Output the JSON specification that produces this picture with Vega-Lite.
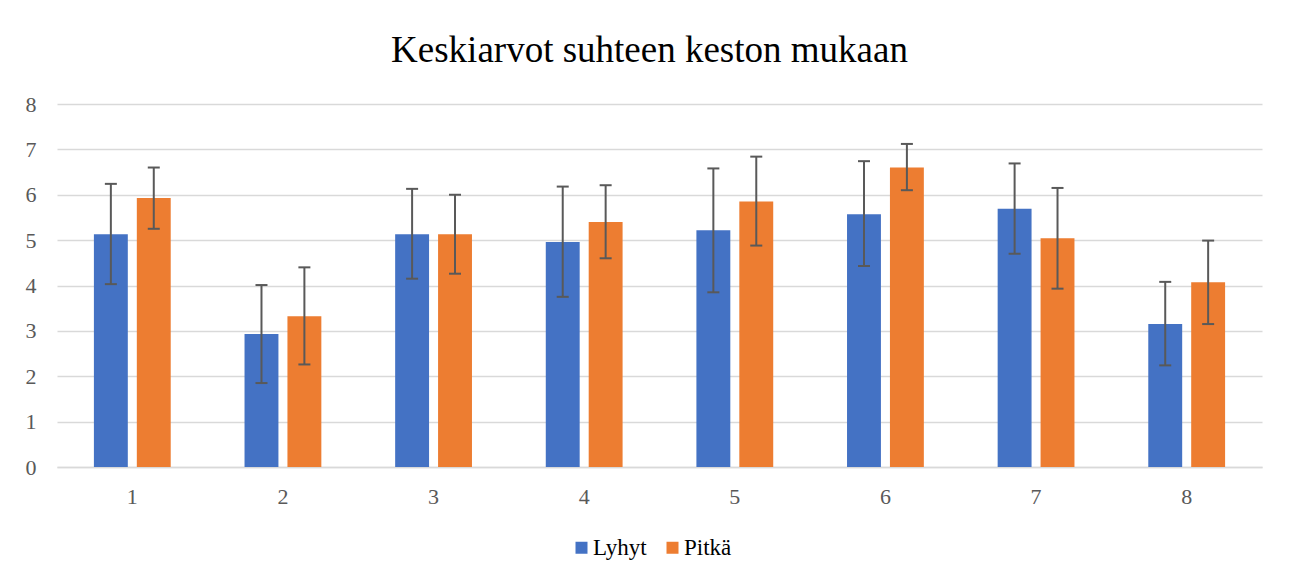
{
  "$schema": "https://vega.github.io/schema/vega-lite/v6.json",
  "autosize": "none",
  "width": 1205,
  "height": 363,
  "padding": {"left": 57, "top": 104, "right": 30, "bottom": 111},
  "background": "white",
  "title": {
    "text": "Keskiarvot suhteen keston mukaan",
    "anchor": "middle",
    "offset": 23,
    "dx": -10
  },
  "data": {
    "values": [
      {"kategoria": "1", "sarja": "Lyhyt", "arvo": 5.13, "yla": 6.24, "ala": 4.03},
      {"kategoria": "1", "sarja": "Pitkä", "arvo": 5.93, "yla": 6.60, "ala": 5.25},
      {"kategoria": "2", "sarja": "Lyhyt", "arvo": 2.93, "yla": 4.01, "ala": 1.85},
      {"kategoria": "2", "sarja": "Pitkä", "arvo": 3.32, "yla": 4.40, "ala": 2.26},
      {"kategoria": "3", "sarja": "Lyhyt", "arvo": 5.13, "yla": 6.13, "ala": 4.15},
      {"kategoria": "3", "sarja": "Pitkä", "arvo": 5.13, "yla": 6.00, "ala": 4.26},
      {"kategoria": "4", "sarja": "Lyhyt", "arvo": 4.96, "yla": 6.18, "ala": 3.75},
      {"kategoria": "4", "sarja": "Pitkä", "arvo": 5.40, "yla": 6.21, "ala": 4.60},
      {"kategoria": "5", "sarja": "Lyhyt", "arvo": 5.22, "yla": 6.58, "ala": 3.85},
      {"kategoria": "5", "sarja": "Pitkä", "arvo": 5.85, "yla": 6.84, "ala": 4.88},
      {"kategoria": "6", "sarja": "Lyhyt", "arvo": 5.57, "yla": 6.74, "ala": 4.43},
      {"kategoria": "6", "sarja": "Pitkä", "arvo": 6.60, "yla": 7.12, "ala": 6.10},
      {"kategoria": "7", "sarja": "Lyhyt", "arvo": 5.69, "yla": 6.69, "ala": 4.70},
      {"kategoria": "7", "sarja": "Pitkä", "arvo": 5.04, "yla": 6.15, "ala": 3.93},
      {"kategoria": "8", "sarja": "Lyhyt", "arvo": 3.15, "yla": 4.08, "ala": 2.24},
      {"kategoria": "8", "sarja": "Pitkä", "arvo": 4.07, "yla": 4.99, "ala": 3.15}
    ]
  },
  "encoding": {
    "x": {
      "field": "kategoria",
      "type": "nominal",
      "scale": {"paddingInner": 0.49, "paddingOuter": 0.245},
      "axis": {
        "title": null,
        "labelAngle": 0,
        "labelPadding": 19,
        "labelFont": "Liberation Serif",
        "labelFontSize": 22,
        "labelColor": "#595959",
        "ticks": false,
        "domain": true,
        "domainColor": "#d9d9d9",
        "domainWidth": 1.5
      }
    },
    "xOffset": {
      "field": "sarja",
      "type": "nominal",
      "scale": {"paddingInner": 0.21, "paddingOuter": 0}
    }
  },
  "layer": [
    {
      "mark": {"type": "bar"},
      "encoding": {
        "y": {
          "field": "arvo",
          "type": "quantitative",
          "scale": {"domain": [0, 8]},
          "axis": {"title": null, "values": [0, 1, 2, 3, 4, 5, 6, 7, 8], "labelOverlap": false, "labelFont": "Liberation Serif", "labelFontSize": 22, "labelColor": "#595959", "labelPadding": 21, "ticks": false, "domain": false, "grid": true, "gridColor": "#d9d9d9", "gridWidth": 1.5}
        },
        "color": {
          "field": "sarja",
          "type": "nominal",
          "scale": {"domain": ["Lyhyt", "Pitkä"], "range": ["#4472C4", "#ED7D31"]},
          "legend": {
            "title": null,
            "orient": "none",
            "direction": "horizontal",
            "legendX": 513,
            "legendY": 432,
            "symbolType": "square",
            "symbolSize": 144,
            "symbolStrokeWidth": 0,
            "symbolOpacity": 1,
            "labelOffset": 0,
            "columnPadding": 14,
            "labelFont": "Liberation Serif",
            "labelFontSize": 23,
            "labelColor": "#000000"
          }
        }
      }
    },
    {
      "mark": {"type": "rule", "color": "#595959", "strokeWidth": 2},
      "encoding": {
        "y": {"field": "ala", "type": "quantitative", "axis": {"title": null, "values": [0, 1, 2, 3, 4, 5, 6, 7, 8], "labelOverlap": false, "labelFont": "Liberation Serif", "labelFontSize": 22, "labelColor": "#595959", "labelPadding": 21, "ticks": false, "domain": false, "grid": true, "gridColor": "#d9d9d9", "gridWidth": 1.5}},
        "y2": {"field": "yla"}
      }
    },
    {
      "mark": {"type": "tick", "color": "#595959", "thickness": 2, "size": 12, "opacity": 1},
      "encoding": {
        "y": {"field": "yla", "type": "quantitative", "axis": {"title": null, "values": [0, 1, 2, 3, 4, 5, 6, 7, 8], "labelOverlap": false, "labelFont": "Liberation Serif", "labelFontSize": 22, "labelColor": "#595959", "labelPadding": 21, "ticks": false, "domain": false, "grid": true, "gridColor": "#d9d9d9", "gridWidth": 1.5}}
      }
    },
    {
      "mark": {"type": "tick", "color": "#595959", "thickness": 2, "size": 12, "opacity": 1},
      "encoding": {
        "y": {"field": "ala", "type": "quantitative", "axis": {"title": null, "values": [0, 1, 2, 3, 4, 5, 6, 7, 8], "labelOverlap": false, "labelFont": "Liberation Serif", "labelFontSize": 22, "labelColor": "#595959", "labelPadding": 21, "ticks": false, "domain": false, "grid": true, "gridColor": "#d9d9d9", "gridWidth": 1.5}}
      }
    }
  ],
  "config": {
    "font": "Liberation Serif",
    "view": {"stroke": null},
    "title": {"font": "Liberation Serif", "fontSize": 37, "fontWeight": "normal", "color": "#000000"}
  }
}
